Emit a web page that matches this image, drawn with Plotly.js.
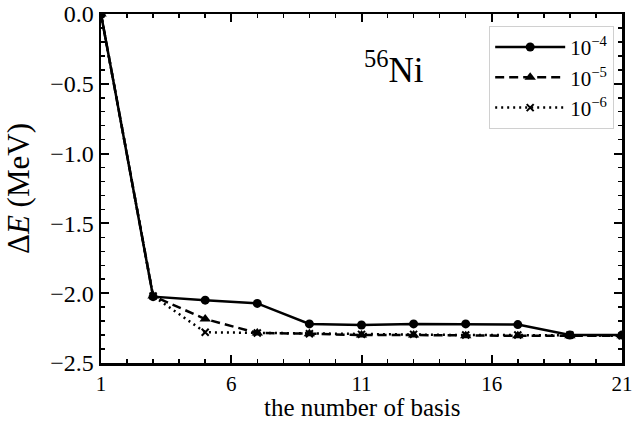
<!DOCTYPE html>
<html>
<head>
<meta charset="utf-8">
<script src="https://cdn.plot.ly/plotly-3.0.1.min.js"></script>
<style>html,body{margin:0;padding:0;background:#fff;}#chart{width:634px;height:421px;}</style>
</head>
<body>
<div id="chart"></div>
<script>
const basisNumbers = [1, 3, 5, 7, 9, 11, 13, 15, 17, 19, 21];
const tol1e4 = [0, -2.025, -2.05, -2.073, -2.22, -2.228, -2.22, -2.22, -2.225, -2.30, -2.30];
const tol1e5 = [0, -2.02, -2.185, -2.285, -2.29, -2.30, -2.30, -2.305, -2.305, -2.305, -2.305];
const tol1e6 = [0, -2.02, -2.28, -2.285, -2.29, -2.295, -2.295, -2.30, -2.30, -2.30, -2.305];
const seriesNames = ["10<sup>\u22124</sup>", "10<sup>\u22125</sup>", "10<sup>\u22126</sup>"];
const xTicks = [1, 6, 11, 16, 21];
const yTicks = [0, -0.5, -1.0, -1.5, -2.0, -2.5];
const yTickLabels = ["0.0", "\u22120.5", "\u22121.0", "\u22121.5", "\u22122.0", "\u22122.5"];
const xTitle = "the number of basis";

const FONT = "Liberation Serif";

const traces = [
  {x: basisNumbers, y: tol1e4, name: seriesNames[0], mode: "lines+markers",
   line: {color: "#000", width: 2.5, dash: "solid"},
   marker: {symbol: "circle", size: 9, color: "#000"}},
  {x: basisNumbers, y: tol1e5, name: seriesNames[1], mode: "lines+markers",
   line: {color: "#000", width: 2.5, dash: "9px,5px"},
   marker: {symbol: "triangle-up", size: 10, color: "#000"}},
  {x: basisNumbers, y: tol1e6, name: seriesNames[2], mode: "lines+markers",
   line: {color: "#000", width: 2.5, dash: "2px,4px"},
   marker: {symbol: "x-thin", size: 7, color: "#000", line: {width: 2, color: "#000"}}}
];

const axisCommon = {
  showgrid: false, zeroline: false, showline: true, linecolor: "#000", linewidth: 2.5,
  mirror: "ticks", ticks: "inside", ticklen: 8, tickwidth: 2, tickcolor: "#000",
  tickfont: {family: FONT, size: 24, color: "#000"}, automargin: false,
  ticklabeloverflow: "allow"
};

const layout = {
  width: 634, height: 421,
  margin: {l: 101, r: 12, t: 14, b: 58},
  paper_bgcolor: "#fff", plot_bgcolor: "#fff",
  font: {family: FONT, color: "#000"},
  showlegend: true,
  legend: {x: 0.985, xanchor: "right", y: 0.966, yanchor: "top",
    bgcolor: "rgba(255,255,255,0.8)", bordercolor: "#d0d0d0", borderwidth: 1,
    font: {family: FONT, size: 21, color: "#000"}, itemwidth: 70},
  xaxis: Object.assign({}, axisCommon, {
    range: [1, 21], tickvals: xTicks, ticktext: xTicks.map(String),
    tickfont: {family: FONT, size: 21, color: "#000"},
    minor: {dtick: 1, ticks: "inside", ticklen: 4, tickwidth: 1.5, tickcolor: "#000", showgrid: false}
  }),
  yaxis: Object.assign({}, axisCommon, {
    range: [-2.5, 0], tickvals: yTicks, ticktext: yTickLabels,
    minor: {dtick: 0.1, ticks: "inside", ticklen: 4, tickwidth: 1.5, tickcolor: "#000", showgrid: false},
    title: {text: "\u0394<i>E</i> (MeV)", font: {family: FONT, size: 31, color: "#000"}, standoff: 12}
  }),
  annotations: [
    {xref: "paper", yref: "paper", x: 0.563, y: 0.917, showarrow: false,
     text: "<sup>56</sup>Ni", font: {family: FONT, size: 35, color: "#000"}},
    {xref: "paper", yref: "paper", x: 0.5, y: -0.168, xanchor: "center", yanchor: "bottom",
     showarrow: false, borderpad: 0, text: xTitle, font: {family: FONT, size: 25, color: "#000"}}
  ]
};

Plotly.newPlot("chart", traces, layout, {displayModeBar: false, staticPlot: true});
</script>
</body>
</html>
